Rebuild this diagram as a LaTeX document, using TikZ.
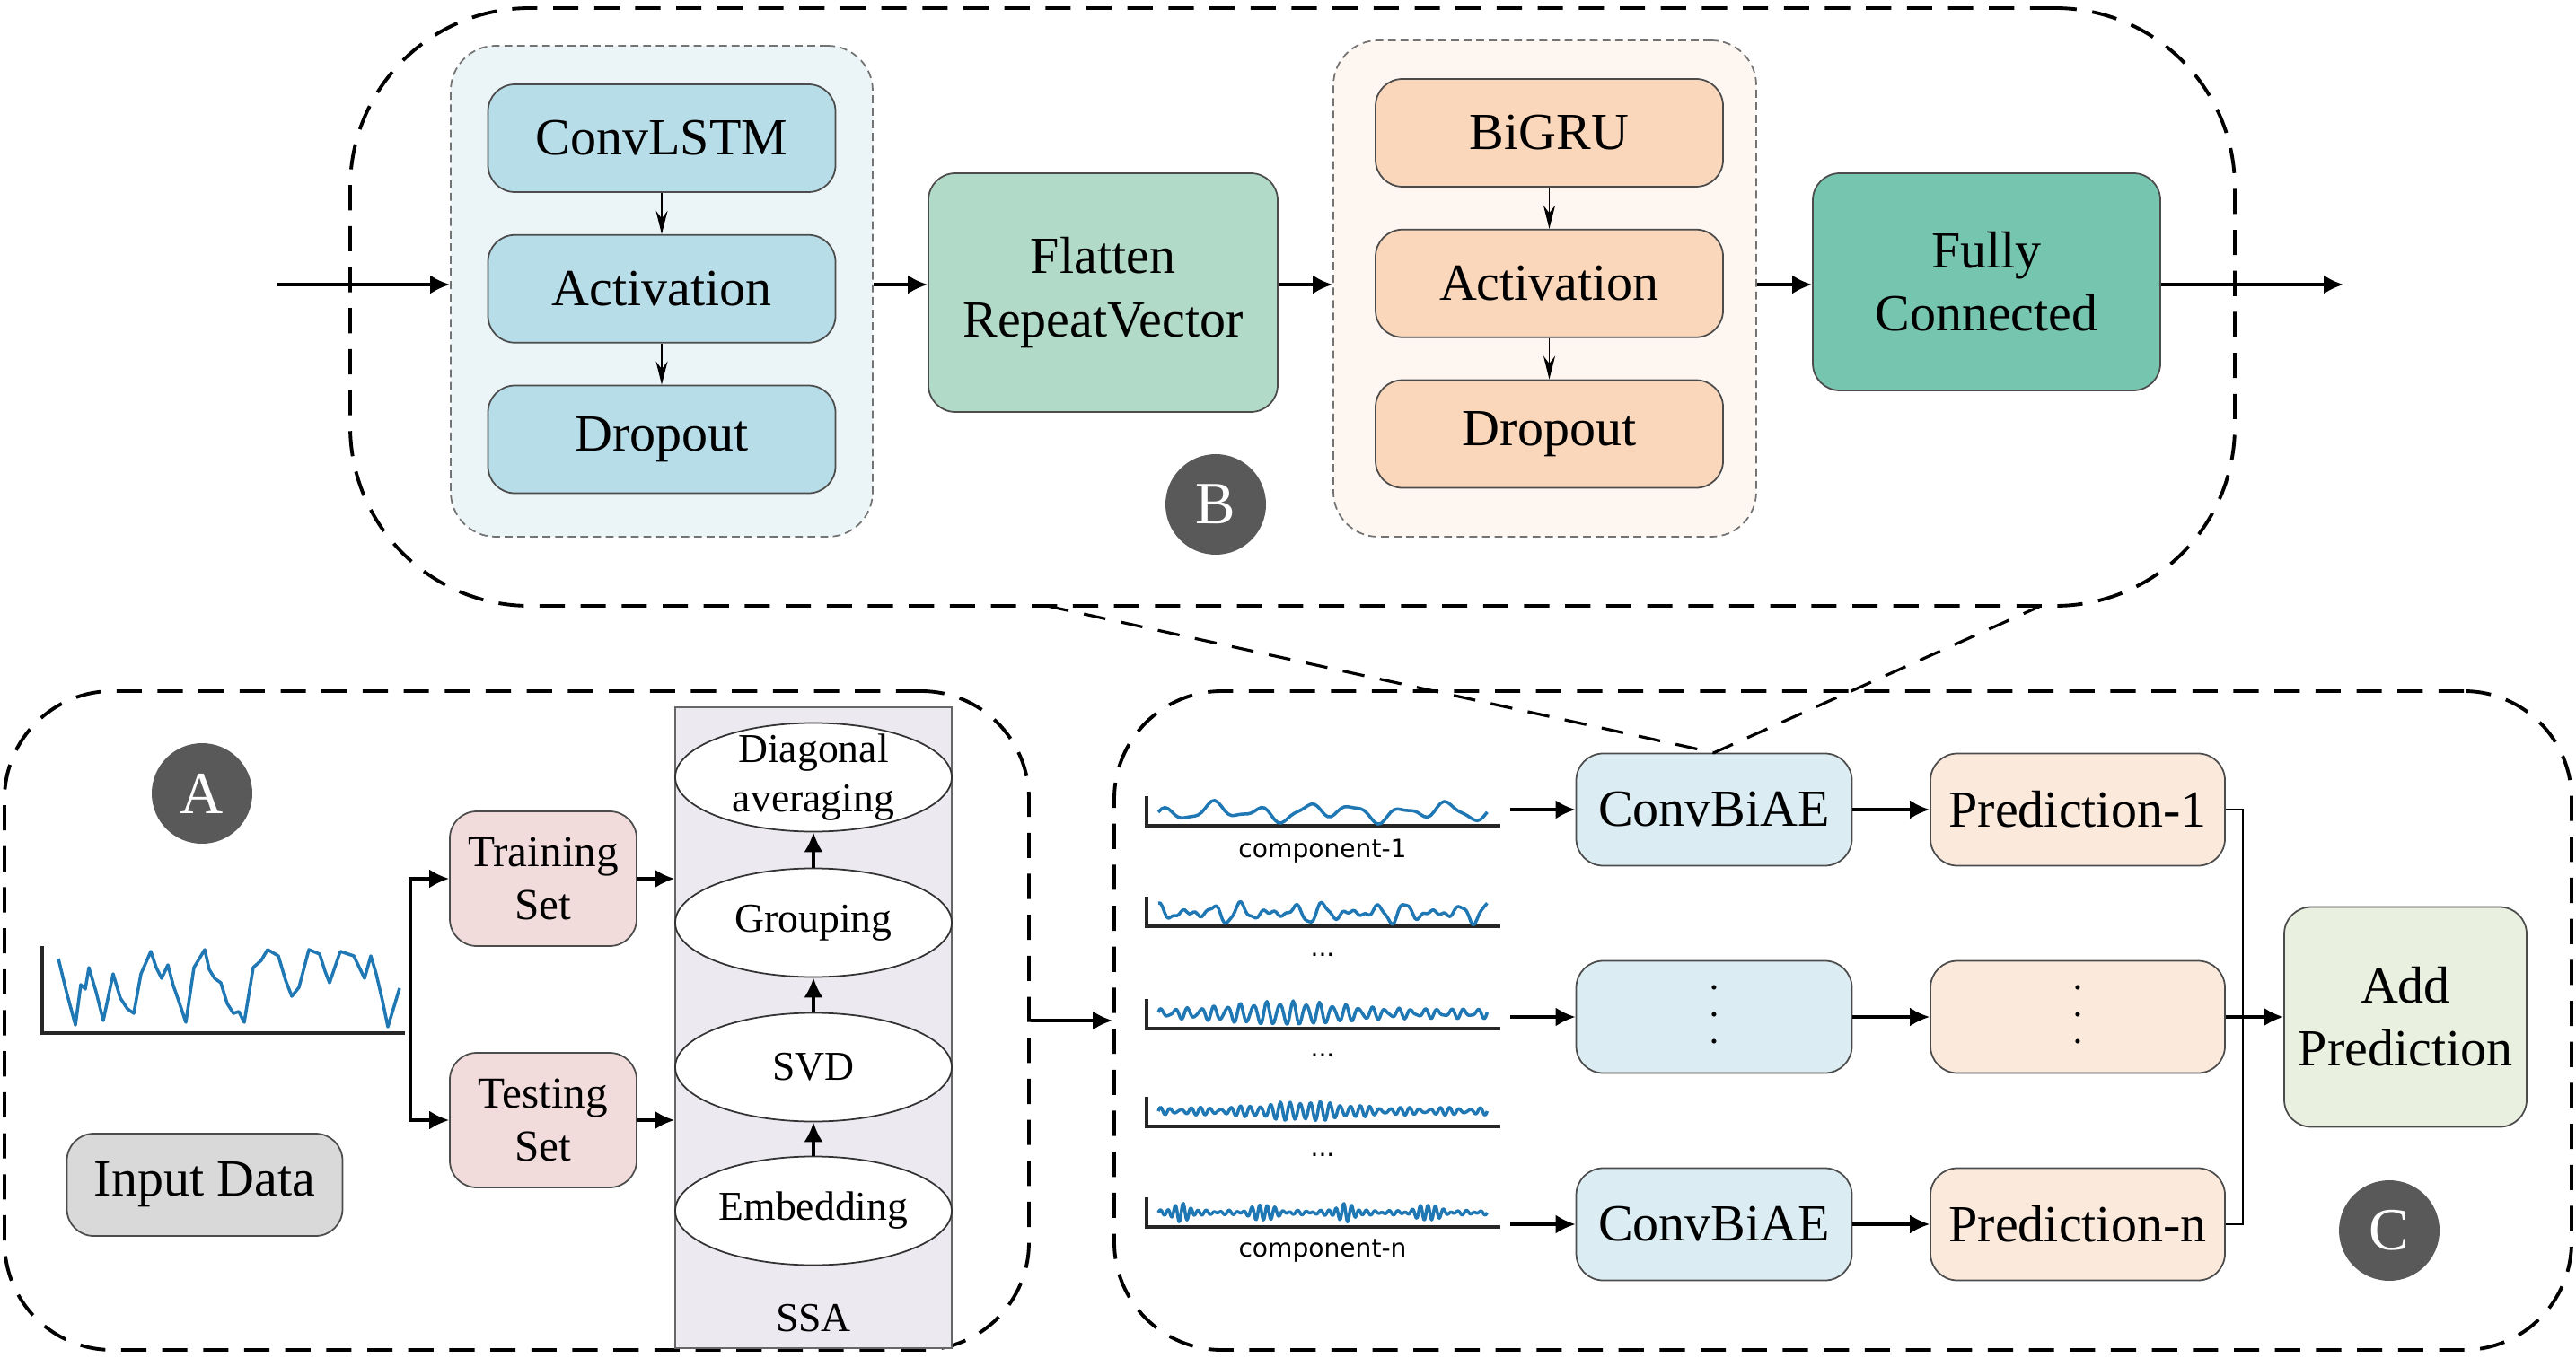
\documentclass[tikz,border=0pt]{standalone}
\usepackage{fontspec}
\setmainfont{Liberation Serif}
\newfontfamily\plotfont{DejaVu Sans}
\usepackage{tikz}
\usetikzlibrary{positioning}
\usetikzlibrary{arrows.meta}
\usetikzlibrary{shapes.geometric}

\definecolor{lstmbg}{HTML}{EBF4F7}
\definecolor{lstmblue}{HTML}{B7DDE8}
\definecolor{grubg}{HTML}{FEF6F1}
\definecolor{gruorange}{HTML}{FAD7BB}
\definecolor{flatgreen}{HTML}{B2DAC8}
\definecolor{fcgreen}{HTML}{76C5AE}
\definecolor{setpink}{HTML}{F1DCDB}
\definecolor{inputgray}{HTML}{D9D9D9}
\definecolor{ssabg}{HTML}{ECE9F1}
\definecolor{aeblue}{HTML}{DBEDF3}
\definecolor{predorange}{HTML}{FBE9DC}
\definecolor{addgreen}{HTML}{E9F0DF}
\definecolor{badgegray}{HTML}{595959}
\definecolor{plotblue}{HTML}{1F77B4}

\newcommand{\layerfont}{\fontsize{16.5}{20}\selectfont}
\newcommand{\splitfont}{\fontsize{14}{16.8}\selectfont}
\newcommand{\ssafont}{\fontsize{13}{15.6}\selectfont}
\newcommand{\badgefont}{\fontsize{19}{22}\selectfont}
\newcommand{\compfont}{\plotfont\fontsize{8}{9.6}\selectfont}
\newcommand{\dotfont}{\fontsize{6}{8.6}\selectfont}

\begin{document}
\begin{tikzpicture}[
                          groupbox/.style={rectangle, draw, line width=1.1pt, dash pattern=on 8pt off 5pt, rounded corners=1.2cm},
                          subgroup/.style={rectangle, draw=gray!90!black, line width=0.5pt, dash pattern=on 2.5pt off 1.5pt, rounded corners=0.5cm},
                          layerbox/.style={rectangle, draw=black!70, line width=0.5pt, rounded corners=0.3cm, minimum width=3.87cm, minimum height=1.2cm, inner sep=0pt, font=\layerfont, align=center},
                          bottombox/.style={layerbox, minimum height=1.25cm},
                          stepell/.style={ellipse, draw=black!80, fill=white, line width=0.5pt, minimum width=3.08cm, minimum height=1.21cm, inner sep=0pt, font=\ssafont},
                          badge/.style={circle, fill=badgegray, text=white, minimum size=1.12cm, inner sep=0pt, font=\badgefont},
                          arr/.style={-{Latex[length=2.2mm,width=2.1mm]}, line width=0.9pt},
                          thinarr/.style={-{Stealth[length=2.6mm,width=1.3mm]}, line width=0.5pt},
                          zoomline/.style={line width=0.9pt, dash pattern=on 7pt off 5pt},
                          axisline/.style={draw=black!85, line width=0.9pt},
                          wave/.style={draw=plotblue, line width=1pt, line join=round},
                      ]
                      \useasboundingbox (0,0) rectangle (28.69,-15.13);

                      %Groups
                      \node[groupbox, rounded corners=2cm, minimum width=20.99cm, minimum height=6.66cm] (groupB) at (14.395,-3.42) {};
                      \node[groupbox, minimum width=11.41cm, minimum height=7.34cm] (groupA) at (5.755,-11.37) {};
                      \node[groupbox, minimum width=16.23cm, minimum height=7.34cm] (groupC) at (20.525,-11.37) {};

                      %Nodes B
                      \node[subgroup, fill=lstmbg, minimum width=4.7cm, minimum height=5.47cm] (lstmgrp) at (7.37,-3.245) {};
                      \node[subgroup, fill=grubg, minimum width=4.71cm, minimum height=5.53cm] (grugrp) at (17.205,-3.215) {};
                      \node[layerbox, fill=lstmblue]   (lstm)                             at (7.37,-1.54)   {ConvLSTM};
                      \node[layerbox, fill=lstmblue]   (act1)     [below=0.46cm of lstm]                    {Activation};
                      \node[layerbox, fill=lstmblue]   (drop1)    [below=0.46cm of act1]                    {Dropout};
                      \node[layerbox, fill=flatgreen, minimum width=3.89cm, minimum height=2.66cm] (flat) at (12.285,-3.26) {Flatten\\RepeatVector};
                      \node[layerbox, fill=gruorange]  (gru)                              at (17.255,-1.48) {BiGRU};
                      \node[layerbox, fill=gruorange]  (act2)     [below=0.46cm of gru]                     {Activation};
                      \node[layerbox, fill=gruorange]  (drop2)    [below=0.46cm of act2]                    {Dropout};
                      \node[layerbox, fill=fcgreen, minimum height=2.42cm] (fc)    at (22.125,-3.14) {Fully\\Connected};
                      \node[badge] (badgeB) at (13.54,-5.62) {B};
                      \coordinate (in)  at (3.08,-3.17);
                      \coordinate (out) at (26.1,-3.17);

                      %Nodes A
                      \node[badge] (badgeA) at (2.25,-8.84) {A};
                      \node[layerbox, fill=setpink, minimum width=2.08cm, minimum height=1.5cm, font=\splitfont] (train) at (6.05,-9.79)  {Training\\Set};
                      \node[layerbox, fill=setpink, minimum width=2.08cm, minimum height=1.5cm, font=\splitfont] (test)  at (6.05,-12.48) {Testing\\Set};
                      \node[layerbox, fill=inputgray, minimum width=3.07cm, minimum height=1.14cm] (input) at (2.28,-13.2) {Input Data};
                      \node[rectangle, draw=gray!80!black, fill=ssabg, line width=0.5pt, minimum width=3.08cm, minimum height=7.14cm] (ssa) at (9.06,-11.45) {};
                      \node[stepell] (diag)  at (9.06,-8.66)  {};
                      \node[font=\ssafont, align=center] (diagtxt) at (diag) {Diagonal\\averaging};
                      \node[stepell] (grp)   at (9.06,-10.28) {Grouping};
                      \node[stepell] (svd)   at (9.06,-11.89) {SVD};
                      \node[stepell] (embed) at (9.06,-13.49) {Embedding};
                      \node[font=\ssafont] (ssatxt) at (9.06,-14.69) {SSA};
                      \coordinate (branch) at (4.57,-11.13);

                      %Nodes C
                      \node[bottombox, fill=aeblue, minimum width=3.07cm]     (ae1)   at (19.09,-9.02)  {ConvBiAE};
                      \node[bottombox, fill=aeblue, minimum width=3.07cm, font=\dotfont] (ae2) at (19.09,-11.33) {•\\•\\•};
                      \node[bottombox, fill=aeblue, minimum width=3.07cm]     (ae3)   at (19.09,-13.64) {ConvBiAE};
                      \node[bottombox, fill=predorange, minimum width=3.28cm] (pred1) at (23.14,-9.02)  {Prediction-1};
                      \node[bottombox, fill=predorange, minimum width=3.28cm, font=\dotfont] (pred2) at (23.14,-11.33) {•\\•\\•};
                      \node[bottombox, fill=predorange, minimum width=3.28cm] (pred3) at (23.14,-13.64) {Prediction-n};
                      \node[layerbox, fill=addgreen, minimum width=2.7cm, minimum height=2.45cm] (add) at (26.79,-11.33) {Add\\Prediction};
                      \node[badge] (badgeC) at (26.61,-13.71) {C};
                      \node[font=\compfont] (comp1) at (14.73,-9.48)  {component-1};
                      \node[font=\compfont] (dots1) at (14.73,-10.64) {...};
                      \node[font=\compfont] (dots2) at (14.73,-11.76) {...};
                      \node[font=\compfont] (dots3) at (14.73,-12.87) {...};
                      \node[font=\compfont] (compn) at (14.73,-13.94) {component-n};
                      \coordinate (c1end) at (16.82,-9.02);
                      \coordinate (c2end) at (16.82,-11.33);
                      \coordinate (c3end) at (16.82,-13.64);
                      \coordinate (merge) at (24.98,-11.33);
                      \coordinate (zoomL) at (11.66,-6.75);
                      \coordinate (zoomR) at (22.73,-6.75);

                      %Plots
                      \draw[axisline] (0.47,-10.54) -- (0.47,-11.51) -- (4.51,-11.51);
                      \draw[wave] plot coordinates {(0.65,-10.68) (0.74,-11.05) (0.84,-11.42) (0.90,-10.97) (0.95,-11.02) (0.99,-10.78) (1.07,-11.05) (1.15,-11.37) (1.26,-10.85) (1.34,-11.12) (1.42,-11.24) (1.49,-11.29) (1.57,-10.85) (1.68,-10.60) (1.74,-10.78) (1.80,-10.90) (1.87,-10.75) (1.93,-10.98) (1.99,-11.15) (2.07,-11.39) (2.16,-10.78) (2.28,-10.58) (2.33,-10.80) (2.39,-10.90) (2.46,-10.95) (2.53,-11.18) (2.60,-11.29) (2.66,-11.27) (2.72,-11.39) (2.82,-10.78) (2.91,-10.70) (2.98,-10.58) (3.10,-10.65) (3.18,-10.92) (3.25,-11.10) (3.33,-11.00) (3.44,-10.58) (3.56,-10.63) (3.62,-10.82) (3.67,-10.95) (3.79,-10.60) (3.94,-10.65) (4.06,-10.90) (4.13,-10.65) (4.19,-10.85) (4.26,-11.15) (4.32,-11.44) (4.45,-11.01)};
                      \foreach \base in {-9.20,-10.32,-11.46,-12.55,-13.67}
                          \draw[axisline] (12.77,\base+0.33) -- (12.77,\base) -- (16.71,\base);
                      \draw[wave] plot[domain=0:360, samples=100] ({12.9+0.01017*\x}, {-9.20+0.15+0.07*sin(7*\x+30)+0.04*sin(3*\x+250)+0.025*sin(13*\x+10)});
                      \draw[wave] plot[domain=0:360, samples=160] ({12.9+0.01017*\x}, {-10.32+0.15+0.12*sin(12*\x+90)*(0.55+0.45*cos(4*\x+40))+0.02*sin(29*\x)});
                      \draw[wave] plot[domain=0:360, samples=240] ({12.9+0.01017*\x}, {-11.46+0.17+(0.04+0.08*pow(sin(\x/2+20),4))*sin(25*\x)+0.02*sin(37*\x+30)});
                      \draw[wave] plot[domain=0:360, samples=300] ({12.9+0.01017*\x}, {-12.55+0.17+(0.03+0.07*pow(sin(\x/2+10),8))*sin(33*\x)+0.015*sin(41*\x)});
                      \draw[wave] plot[domain=0:360, samples=380] ({12.9+0.01017*\x}, {-13.67+0.16+(0.015+0.08*pow(sin(2*\x+40),8))*sin(43*\x)+0.012*sin(29*\x)});

                      %Lines
                      \draw[arr] (in) -- (in -| lstmgrp.west);
                      \draw[thinarr] (lstm) -- (act1);
                      \draw[thinarr] (act1) -- (drop1);
                      \draw[arr] (in -| lstmgrp.east) -- (in -| flat.west);
                      \draw[arr] (in -| flat.east) -- (in -| grugrp.west);
                      \draw[thinarr] (gru) -- (act2);
                      \draw[thinarr] (act2) -- (drop2);
                      \draw[arr] (in -| grugrp.east) -- (in -| fc.west);
                      \draw[arr] (in -| fc.east) -- (out);

                      \draw[arr] (branch) |- (train.west);
                      \draw[arr] (branch) |- (test.west);
                      \draw[arr] (train.east) -- (train.east -| ssa.west);
                      \draw[arr] (test.east) -- (test.east -| ssa.west);
                      \draw[arr] (embed) -- (svd);
                      \draw[arr] (svd) -- (grp);
                      \draw[arr] (grp) -- (diag);
                      \draw[arr] (groupA.east) -- (groupC.west);

                      \draw[arr] (c1end) -- (ae1);
                      \draw[arr] (c2end) -- (ae2);
                      \draw[arr] (c3end) -- (ae3);
                      \draw[arr] (ae1) -- (pred1);
                      \draw[arr] (ae2) -- (pred2);
                      \draw[arr] (ae3) -- (pred3);
                      \draw[line width=0.7pt] (pred1.east) -| (merge);
                      \draw[line width=0.7pt] (pred3.east) -| (merge);
                      \draw[arr] (pred2) -- (add);

                      \draw[zoomline] (zoomL) -- (ae1.north) -- (zoomR);
                  \end{tikzpicture}
\end{document}
